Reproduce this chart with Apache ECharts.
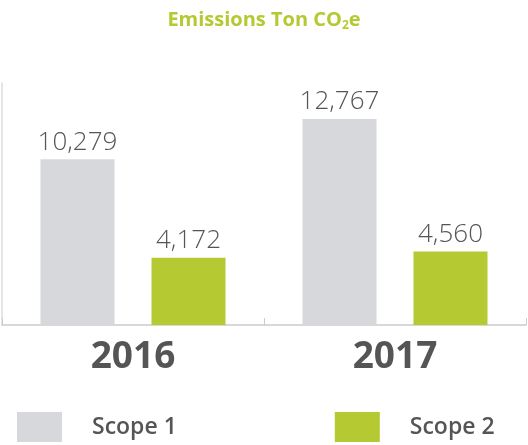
<!DOCTYPE html>
<html>
<head>
<meta charset="utf-8">
<script src="https://cdn.jsdelivr.net/npm/echarts@6/dist/echarts.min.js"></script>
<style>html,body{margin:0;padding:0;background:#fff}#c{width:528px;height:445px}</style>
</head>
<body>
<div id="c"></div>
<script>
const categories = ['2016', '2017'];
const seriesNames = ['Scope 1', 'Scope 2'];
const scope1 = [10279, 12767];
const scope2 = [4172, 4560];

const GRAY = '#d7d8dc';
const GREEN = '#b5c932';
const TEXT = '#555555';
const FONT = '"Open Sans", "Noto Sans", sans-serif';

const chart = echarts.init(document.getElementById('c'));
const labelCfg = {
  show: true,
  position: 'top',
  distance: 4,
  color: TEXT,
  fontFamily: FONT,
  fontSize: 26,
  fontWeight: 300,
  formatter: p => p.value.toLocaleString('en-US')
};
chart.setOption({
  animation: false,
  title: {
    text: 'Emissions Ton CO{sub|2}e',
    left: 'center',
    top: 3,
    textStyle: {
      color: GREEN, fontFamily: FONT, fontSize: 20, fontWeight: 700,
      rich: { sub: { color: GREEN, fontFamily: FONT, fontSize: 12, fontWeight: 700, verticalAlign: 'bottom', padding: [12, 0, 0, 0] } }
    }
  },
  legend: {
    left: 12, top: 407,
    itemWidth: 45, itemHeight: 30, itemGap: 158,
    icon: 'rect',
    data: seriesNames,
    textStyle: { color: TEXT, fontFamily: FONT, fontSize: 23, fontWeight: 600, padding: [0, 0, 0, 25] }
  },
  grid: { left: 2, right: 2, top: 83, bottom: 120 },
  xAxis: {
    type: 'category',
    data: categories,
    axisLine: { lineStyle: { color: '#cccccc', width: 1.5 } },
    axisTick: { show: true, inside: true, length: 7, lineStyle: { color: '#cccccc' } },
    axisLabel: { color: TEXT, fontFamily: FONT, fontSize: 37, fontWeight: 700, margin: 14 }
  },
  yAxis: {
    type: 'value',
    min: 0, max: 15000,
    axisLine: { show: true, lineStyle: { color: '#dddddd', width: 1.5 } },
    axisTick: { show: false },
    axisLabel: { show: false },
    splitLine: { show: false }
  },
  series: [
    { name: seriesNames[0], type: 'bar', data: scope1, barWidth: 74, barGap: '50%', itemStyle: { color: GRAY }, label: labelCfg },
    { name: seriesNames[1], type: 'bar', data: scope2, barWidth: 74, barGap: '50%', itemStyle: { color: GREEN }, label: labelCfg }
  ]
});
</script>
</body>
</html>
